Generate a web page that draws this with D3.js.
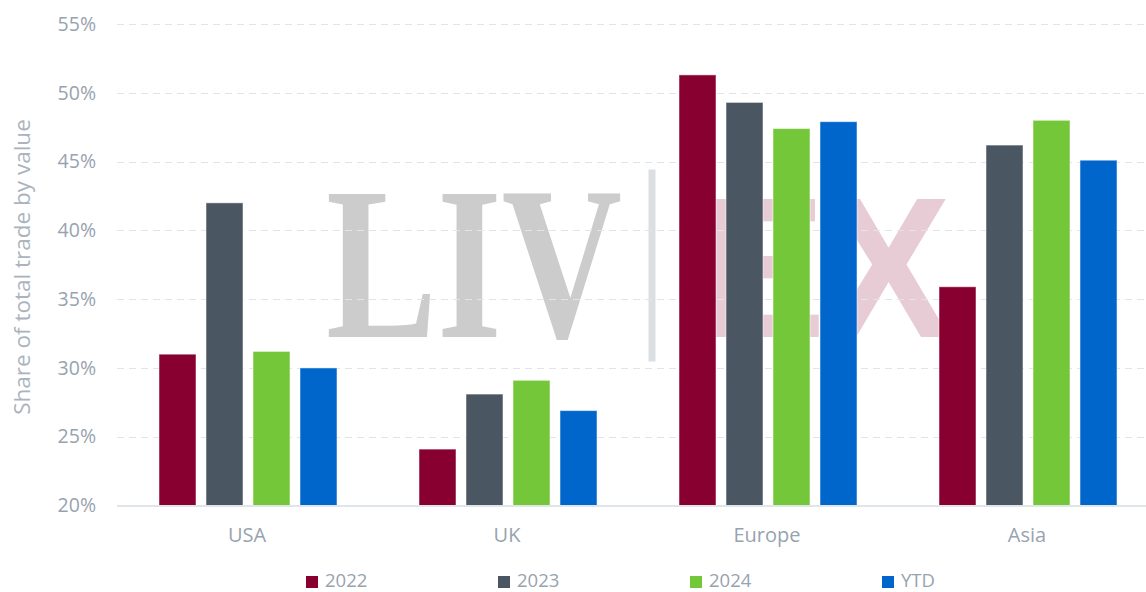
<!DOCTYPE html>
<html>
<head>
<meta charset="utf-8">
<script src="https://cdn.jsdelivr.net/npm/d3@7"></script>
<style>
    body { margin: 0; background: #fff; }
    svg { display: block; font-family: 'Open Sans', sans-serif; }
</style>
</head>
<body>
<svg id="chart" width="1146" height="592"></svg>
<script>
const regions = ['USA', 'UK', 'Europe', 'Asia'];
const seriesNames = ['2022', '2023', '2024', 'YTD'];
const values2022 = [31.0, 24.1, 51.3, 35.9];
const values2023 = [42.0, 28.1, 49.3, 46.2];
const values2024 = [31.2, 29.1, 47.4, 48.0];
const valuesYTD = [30.0, 26.9, 47.9, 45.1];
const seriesColors = ['#870030', '#4a5762', '#74c739', '#0066cc'];
const yTicks = [20, 25, 30, 35, 40, 45, 50, 55];

const allValues = [values2022, values2023, values2024, valuesYTD];
const rows = regions.map((r, i) => ({
    region: r,
    bars: seriesNames.map((s, j) => ({ series: s, value: allValues[j][i] }))
}));

const svg = d3.select('#chart');
const textColor = '#97a3af';

const x0 = d3.scaleBand().domain(regions).range([117, 1157]).padding(0);
const x1 = d3.scaleBand().domain(seriesNames).range([42, 220]).paddingInner(0.213).paddingOuter(0);
const y = d3.scaleLinear().domain([20, 55]).range([505.5, 24]);
const color = d3.scaleOrdinal().domain(seriesNames).range(seriesColors);

// watermark
const wm = svg.append('g').attr('class', 'watermark');
wm.append('text')
    .attr('x', 326).attr('y', 337)
    .attr('textLength', 296).attr('lengthAdjust', 'spacingAndGlyphs')
    .style('font-family', "'Liberation Serif', serif")
    .style('font-weight', 'bold')
    .style('font-size', '218px')
    .attr('fill', '#cccccc')
    .text('LIV');
wm.append('rect')
    .attr('x', 648.5).attr('y', 169.5).attr('width', 7).attr('height', 192)
    .attr('fill', '#dcdfe2');
wm.append('text')
    .attr('x', 701).attr('y', 337)
    .attr('textLength', 250).attr('lengthAdjust', 'spacingAndGlyphs')
    .style('font-family', "'Liberation Sans', sans-serif")
    .style('font-weight', 'bold')
    .style('font-size', '201px')
    .attr('fill', '#e8ccd5')
    .text('EX');

// gridlines
svg.append('g')
    .selectAll('line')
    .data(yTicks.filter(d => d > 20))
    .enter()
    .append('line')
    .attr('x1', 117).attr('x2', 1146)
    .attr('y1', d => Math.round(y(d)) + 0.5)
    .attr('y2', d => Math.round(y(d)) + 0.5)
    .attr('stroke', '#dfe5ea')
    .attr('stroke-width', 1)
    .attr('stroke-dasharray', '7,5');

// y axis
const yAxis = svg.append('g')
    .attr('transform', 'translate(96,0)')
    .call(d3.axisLeft(y).tickValues(yTicks).tickSize(0).tickPadding(0).tickFormat(d => d + '%'));
yAxis.select('.domain').remove();
yAxis.selectAll('text')
    .attr('fill', textColor)
    .style('font-size', '19.5px')
    .style('font-family', "'Open Sans', sans-serif");

svg.append('text')
    .attr('transform', 'translate(30,267) rotate(-90)')
    .attr('text-anchor', 'middle')
    .attr('fill', '#aab4be')
    .style('font-size', '22.5px')
    .text('Share of total trade by value');

// bars
const groups = svg.append('g')
    .selectAll('g')
    .data(rows)
    .enter()
    .append('g')
    .attr('transform', d => `translate(${x0(d.region)},0)`);

groups.selectAll('rect')
    .data(d => d.bars)
    .enter()
    .append('rect')
    .attr('x', d => x1(d.series))
    .attr('width', x1.bandwidth())
    .attr('y', d => y(d.value))
    .attr('height', d => y(20) - y(d.value))
    .attr('fill', d => color(d.series))
    .attr('stroke', '#ffffff')
    .attr('stroke-opacity', 0.5)
    .attr('stroke-width', 1);

// baseline
svg.append('line')
    .attr('x1', 117).attr('x2', 1146)
    .attr('y1', 506).attr('y2', 506)
    .attr('stroke', '#e0e5ea')
    .attr('stroke-width', 2);

// x axis
const xAxis = svg.append('g')
    .attr('transform', 'translate(0,506)')
    .call(d3.axisBottom(x0).tickSize(0).tickPadding(0));
xAxis.select('.domain').remove();
xAxis.selectAll('text')
    .attr('y', 36)
    .attr('dy', 0)
    .attr('fill', textColor)
    .style('font-size', '20px')
    .style('font-family', "'Open Sans', sans-serif");

// legend
const legend = svg.append('g')
    .selectAll('g')
    .data(seriesNames)
    .enter()
    .append('g')
    .attr('transform', (d, i) => `translate(${306 + i * 192},0)`);

legend.append('rect')
    .attr('x', 0).attr('y', 576)
    .attr('width', 12).attr('height', 12)
    .attr('fill', d => color(d));

legend.append('text')
    .attr('x', 19).attr('y', 587)
    .attr('fill', textColor)
    .style('font-size', '18.5px')
    .text(d => d);
</script>
</body>
</html>
